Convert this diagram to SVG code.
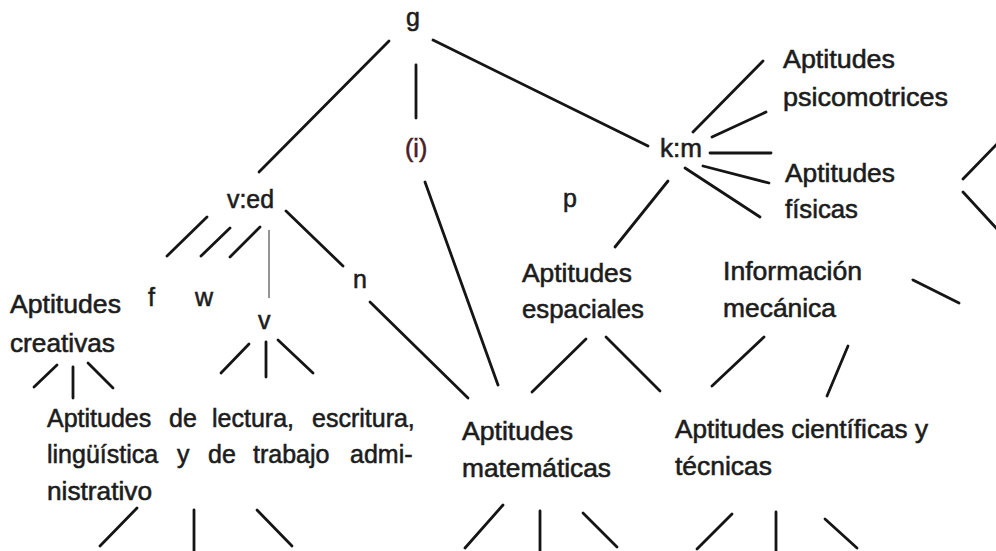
<svg xmlns="http://www.w3.org/2000/svg" width="996" height="551" viewBox="0 0 996 551">
<style>
text{font-family:"Liberation Sans",Arial,sans-serif;font-size:25px;fill:#1c1c1c;stroke:#1c1c1c;stroke-width:0.55}
.l{stroke:#151515;stroke-width:2.8;stroke-linecap:round;fill:none}
.thin{stroke:#7a7a7a;stroke-width:1.6;fill:none}
</style>
<rect width="996" height="551" fill="#ffffff"/>
<g id="connectors">
<line class="l" x1="389" y1="41" x2="259" y2="172"/>
<line class="l" x1="416" y1="65" x2="416" y2="118"/>
<line class="l" x1="433" y1="40" x2="648" y2="146"/>
<line class="l" x1="425" y1="182" x2="498" y2="385"/>
<line class="l" x1="693" y1="132" x2="763" y2="61"/>
<line class="l" x1="712" y1="137" x2="766" y2="112"/>
<line class="l" x1="710" y1="153" x2="771" y2="153"/>
<line class="l" x1="703" y1="166" x2="769" y2="183"/>
<line class="l" x1="685" y1="168" x2="760" y2="217"/>
<line class="l" x1="668" y1="181" x2="615" y2="247"/>
<line class="l" x1="963" y1="179" x2="998" y2="143"/>
<line class="l" x1="963" y1="192" x2="998" y2="230"/>
<line class="l" x1="913" y1="280" x2="959" y2="303"/>
<line class="l" x1="207" y1="217" x2="167" y2="256"/>
<line class="l" x1="230" y1="228" x2="201" y2="256"/>
<line class="l" x1="260" y1="227" x2="230" y2="257"/>
<line class="thin" x1="269" y1="230" x2="269" y2="298"/>
<line class="l" x1="286" y1="211" x2="343" y2="266"/>
<line class="l" x1="370" y1="302" x2="468" y2="398"/>
<line class="l" x1="57" y1="365" x2="34" y2="387"/>
<line class="l" x1="73" y1="367" x2="73" y2="398"/>
<line class="l" x1="88" y1="363" x2="113" y2="388"/>
<line class="l" x1="249" y1="344" x2="221" y2="373"/>
<line class="l" x1="266" y1="342" x2="266" y2="377"/>
<line class="l" x1="278" y1="340" x2="313" y2="373"/>
<line class="l" x1="586" y1="339" x2="532" y2="392"/>
<line class="l" x1="606" y1="337" x2="660" y2="391"/>
<line class="l" x1="764" y1="337" x2="712" y2="386"/>
<line class="l" x1="848" y1="346" x2="827" y2="396"/>
<line class="l" x1="137" y1="508" x2="100" y2="546"/>
<line class="l" x1="194" y1="510" x2="194" y2="553"/>
<line class="l" x1="257" y1="510" x2="292" y2="546"/>
<line class="l" x1="503" y1="505" x2="465" y2="548"/>
<line class="l" x1="540" y1="511" x2="540" y2="553"/>
<line class="l" x1="583" y1="513" x2="617" y2="547"/>
<line class="l" x1="732" y1="514" x2="697" y2="549"/>
<line class="l" x1="776" y1="512" x2="776" y2="553"/>
<line class="l" x1="825" y1="519" x2="857" y2="548"/>
</g>
<g id="g"><text x="406" y="26">g</text></g>
<g id="i"><text x="405" y="157" style="fill:#4a1c24;stroke:#4a1c24">(i)</text></g>
<g id="ved"><text x="227" y="208" textLength="47" lengthAdjust="spacingAndGlyphs">v:ed</text></g>
<g id="km"><text x="660" y="157" textLength="42" lengthAdjust="spacingAndGlyphs">k:m</text></g>
<g id="p"><text x="563" y="207">p</text></g>
<g id="psicomotrices"><text x="783" y="68" textLength="112" lengthAdjust="spacingAndGlyphs">Aptitudes</text><text x="783" y="106" textLength="165" lengthAdjust="spacingAndGlyphs">psicomotrices</text></g>
<g id="fisicas"><text x="785" y="182" textLength="110" lengthAdjust="spacingAndGlyphs">Aptitudes</text><text x="785" y="218" textLength="73" lengthAdjust="spacingAndGlyphs">físicas</text></g>
<g id="f"><text x="148" y="306">f</text></g>
<g id="w"><text x="195" y="306">w</text></g>
<g id="v"><text x="258" y="329">v</text></g>
<g id="n"><text x="353" y="288">n</text></g>
<g id="creativas"><text x="10" y="313" textLength="111" lengthAdjust="spacingAndGlyphs">Aptitudes</text><text x="10" y="352" textLength="105" lengthAdjust="spacingAndGlyphs">creativas</text></g>
<g id="espaciales"><text x="522" y="282" textLength="110" lengthAdjust="spacingAndGlyphs">Aptitudes</text><text x="522" y="318" textLength="122" lengthAdjust="spacingAndGlyphs">espaciales</text></g>
<g id="mecanica"><text x="723" y="280" textLength="139" lengthAdjust="spacingAndGlyphs">Información</text><text x="723" y="317" textLength="113" lengthAdjust="spacingAndGlyphs">mecánica</text></g>
<g id="lectura"><text y="427"><tspan x="47">Aptitudes</tspan> <tspan x="169">de</tspan> <tspan x="212">lectura,</tspan> <tspan x="312">escritura,</tspan></text><text y="463"><tspan x="47">lingüística</tspan> <tspan x="177">y</tspan> <tspan x="208">de</tspan> <tspan x="253">trabajo</tspan> <tspan x="350">admi-</tspan></text><text x="47" y="500" textLength="105" lengthAdjust="spacingAndGlyphs">nistrativo</text></g>
<g id="matematicas"><text x="462" y="440" textLength="111" lengthAdjust="spacingAndGlyphs">Aptitudes</text><text x="462" y="477" textLength="149" lengthAdjust="spacingAndGlyphs">matemáticas</text></g>
<g id="cientificas"><text x="675" y="438" textLength="253" lengthAdjust="spacingAndGlyphs">Aptitudes científicas y</text><text x="675" y="475" textLength="97" lengthAdjust="spacingAndGlyphs">técnicas</text></g>
</svg>
